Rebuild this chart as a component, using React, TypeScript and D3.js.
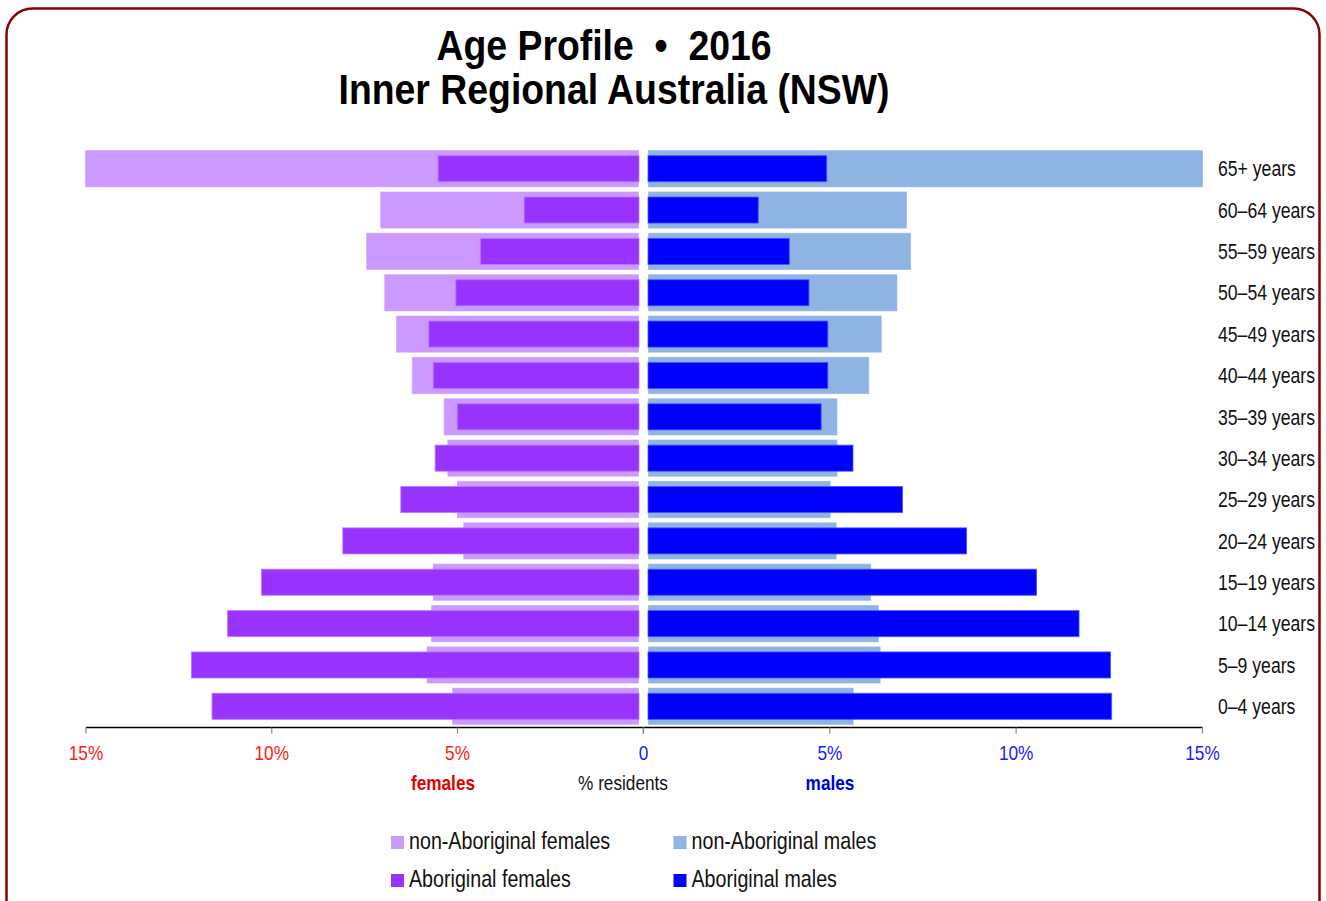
import React from "react";
import * as d3 from "d3";

const ageGroups = [
  "65+ years", "60–64 years", "55–59 years", "50–54 years", "45–49 years",
  "40–44 years", "35–39 years", "30–34 years", "25–29 years", "20–24 years",
  "15–19 years", "10–14 years", "5–9 years", "0–4 years",
];
const nonAboriginalFemales = [15, 7.01, 7.39, 6.9, 6.58, 6.15, 5.29, 5.19, 4.93, 4.76, 5.58, 5.63, 5.75, 5.06];
const aboriginalFemales = [5.44, 3.11, 4.29, 4.96, 5.69, 5.57, 4.92, 5.52, 6.45, 8.02, 10.22, 11.14, 12.12, 11.56];
const nonAboriginalMales = [15, 7.0, 7.11, 6.74, 6.32, 5.98, 5.12, 5.12, 4.94, 5.1, 6.03, 6.24, 6.29, 5.56];
const aboriginalMales = [4.83, 2.98, 3.82, 4.35, 4.86, 4.86, 4.68, 5.54, 6.88, 8.61, 10.5, 11.65, 12.5, 12.53];
const tickValues = [0, 5, 10, 15];
const titleLines = ["Age Profile  •  2016", "Inner Regional Australia (NSW)"];
const legendItems = [
  { label: "non-Aboriginal females", color: "#cc99ff" },
  { label: "non-Aboriginal males", color: "#8db4e2" },
  { label: "Aboriginal females", color: "#9933ff" },
  { label: "Aboriginal males", color: "#0000ff" },
];

const FONT = "'Liberation Sans', Arial, sans-serif";

type NTProps = {
  x: number; y: number; sx?: number; anchor?: string; size: number; fill: string;
  bold?: boolean; dy?: string; children: React.ReactNode;
};
function NText({ x, y, sx = 0.82, anchor = "start", size, fill, bold, dy, children }: NTProps) {
  return (
    <text transform={`translate(${x},${y}) scale(${sx},1)`} textAnchor={anchor} dy={dy}
      fontFamily={FONT} fontSize={size} fontWeight={bold ? "bold" : "normal"} fill={fill}
      style={{ whiteSpace: "pre" }}>
      {children}
    </text>
  );
}

export default function App() {
  const W = 1326, H = 901;
  const y = d3.scaleBand<string>().domain(ageGroups).range([148, 727]).paddingInner(0.1).paddingOuter(0.05);
  const xF = d3.scaleLinear().domain([0, 15]).range([639, 85]);
  const xM = d3.scaleLinear().domain([0, 15]).range([648, 1203]);
  const axF = d3.scaleLinear().domain([0, 15]).range([643.3, 86]);
  const axM = d3.scaleLinear().domain([0, 15]).range([643.5, 1202.5]);
  const bw = y.bandwidth();
  const ih = bw * 0.7;
  const axisY = 727.5;
  const fmt = (v: number) => (v === 0 ? "0" : `${v}%`);

  return (
    <svg width={W} height={H} style={{ position: "absolute", left: 0, top: 0, background: "#fff" }}>
      <rect x={6.5} y={8.5} width={1313} height={H + 40} rx={26} ry={26} fill="#fff" stroke="#8b0000" strokeWidth={2.5} />
      {titleLines.map((t, i) => (
        <NText key={t} x={i === 0 ? 604 : 614} y={i === 0 ? 60 : 104} anchor="middle" sx={0.89}
          size={42} bold fill="#000">
          {t}
        </NText>
      ))}
      <g>
        {ageGroups.map((g, i) => {
          const top = y(g)!;
          return (
            <g key={g}>
              <rect x={xF(nonAboriginalFemales[i])} y={top} width={xF(0) - xF(nonAboriginalFemales[i])} height={bw}
                fill="#cc99ff" stroke="rgba(255,255,255,0.4)" strokeWidth={1} />
              <rect x={xM(0)} y={top} width={xM(nonAboriginalMales[i]) - xM(0)} height={bw}
                fill="#8db4e2" stroke="rgba(255,255,255,0.4)" strokeWidth={1} />
              <rect x={xF(aboriginalFemales[i])} y={top + (bw - ih) / 2} width={xF(0) - xF(aboriginalFemales[i])} height={ih}
                fill="#9933ff" stroke="rgba(180,120,255,0.8)" strokeWidth={1} />
              <rect x={xM(0)} y={top + (bw - ih) / 2} width={xM(aboriginalMales[i]) - xM(0)} height={ih}
                fill="#0000ff" stroke="rgba(80,80,255,0.8)" strokeWidth={1} />
              <NText x={1218} y={top + bw / 2} dy="0.36em" size={21.5} fill="#111">{g}</NText>
            </g>
          );
        })}
      </g>
      <line x1={axF(15)} x2={axM(15)} y1={axisY} y2={axisY} stroke="#000" strokeWidth={1.5} />
      {tickValues.map((v) => (
        <g key={"f" + v}>
          <line x1={axF(v)} x2={axF(v)} y1={axisY} y2={axisY + 6} stroke="#888" strokeWidth={1.2} />
          {v !== 0 && (
            <NText x={axF(v)} y={760} anchor="middle" size={21} fill="#ff1a1a">{fmt(v)}</NText>
          )}
        </g>
      ))}
      {tickValues.map((v) => (
        <g key={"m" + v}>
          <line x1={axM(v)} x2={axM(v)} y1={axisY} y2={axisY + 6} stroke="#888" strokeWidth={1.2} />
          <NText x={axM(v)} y={760} anchor="middle" size={21} fill="#1a1aff">{fmt(v)}</NText>
        </g>
      ))}
      <NText x={443} y={790} anchor="middle" bold size={21} fill="#e00000">females</NText>
      <NText x={623} y={790} anchor="middle" size={21} fill="#111">% residents</NText>
      <NText x={830} y={790} anchor="middle" bold size={21} fill="#0000dd">males</NText>
      {legendItems.map((it, i) => {
        const col = i % 2, row = Math.floor(i / 2);
        const sx = col === 0 ? 391 : 673.5;
        const sy = row === 0 ? 836 : 874;
        return (
          <g key={it.label}>
            <rect x={sx} y={sy} width={13} height={13} fill={it.color} />
            <NText x={sx + 18} y={sy + 4.5} dy="0.36em" size={24} fill="#111">{it.label}</NText>
          </g>
        );
      })}
    </svg>
  );
}
